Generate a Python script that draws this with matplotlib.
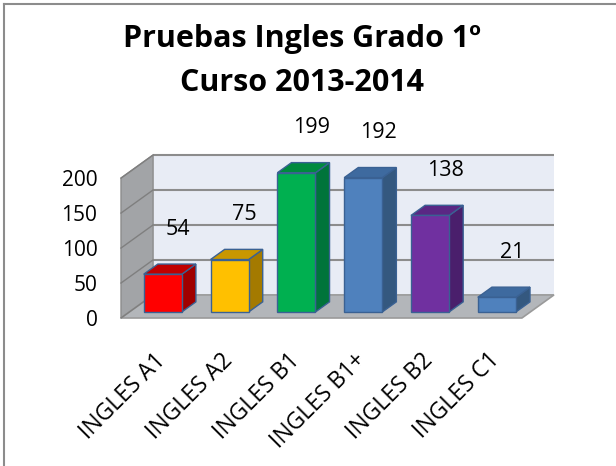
import matplotlib.pyplot as plt
from matplotlib.patches import Polygon
from matplotlib.lines import Line2D
from matplotlib.transforms import ScaledTranslation

categories = ["INGLES A1", "INGLES A2", "INGLES B1", "INGLES B1+", "INGLES B2", "INGLES C1"]
values = [54, 75, 199, 192, 138, 21]
front_colors = ["#FF0000", "#FFC000", "#00B050", "#4F81BD", "#7030A0", "#4F81BD"]
top_colors = ["#C00000", "#C99700", "#008A3E", "#3E6A9F", "#5A2784", "#3E6A9F"]
side_colors = ["#A00000", "#A47A00", "#00743A", "#34587F", "#4A1F6C", "#34587F"]
yticks = [0, 50, 100, 150, 200]
title = "Pruebas Ingles Grado 1º\nCurso 2013-2014"

plt.rcParams['font.family'] = ['Open Sans', 'DejaVu Sans']

W, H = 616, 466
fig = plt.figure(figsize=(W / 100, H / 100), dpi=100)

# pseudo 3d: depth offset in data units
DX = 0.48      # categories
DY = 33.0      # value units
bw = 0.57      # bar width
d0, d1 = 0.26, 0.70   # bar depth range (fraction of floor depth)
ymax = max(yticks)
n = len(categories)

ax = fig.add_axes([121 / W, 1 - 318 / H, 433 / W, 163 / H])
ax.set_xlim(-0.5, n - 0.5 + DX)
ax.set_ylim(0, ymax + DY)


def proj(x, v, d):
    return (x + d * DX, v + d * DY)


xl, xr = -0.5, n - 0.5
wall_kw = dict(closed=True, clip_on=False)
# back wall
ax.add_patch(Polygon([proj(xl, 0, 1), proj(xr, 0, 1), proj(xr, ymax, 1), proj(xl, ymax, 1)],
                     facecolor="#E8ECF5", edgecolor="none", zorder=1, **wall_kw))
# side wall
ax.add_patch(Polygon([proj(xl, 0, 0), proj(xl, 0, 1), proj(xl, ymax, 1), proj(xl, ymax, 0)],
                     facecolor="#A2A4A7", edgecolor="#8C8C8C", lw=1.0, zorder=1, **wall_kw))
# floor
ax.add_patch(Polygon([proj(xl, 0, 0), proj(xr, 0, 0), proj(xr, 0, 1), proj(xl, 0, 1)],
                     facecolor="#B3B6BA", edgecolor="#9A9A9A", lw=1.2, zorder=2, **wall_kw))

# gridlines on back and side walls
for v in yticks:
    bx0, by0 = proj(xl, v, 1)
    bx1, by1 = proj(xr, v, 1)
    sx0, sy0 = proj(xl, v, 0)
    if v > 0:
        ax.plot([bx0, bx1], [by0, by1], color="#8C8C8C", lw=1.5, zorder=2, clip_on=False,
                solid_capstyle="butt")
    ax.plot([sx0, bx0], [sy0, by0], color="#7F7F7F", lw=1.0, zorder=2, clip_on=False)

# bars
edge = "#3A6193"
for i, v in enumerate(values):
    x0, x1 = i - bw / 2, i + bw / 2
    side = [proj(x1, 0, d0), proj(x1, 0, d1), proj(x1, v, d1), proj(x1, v, d0)]
    top = [proj(x0, v, d0), proj(x1, v, d0), proj(x1, v, d1), proj(x0, v, d1)]
    ax.add_patch(Polygon(side, closed=True, facecolor=side_colors[i], edgecolor=edge, lw=1.0, zorder=3))
    ax.add_patch(Polygon(top, closed=True, facecolor=top_colors[i], edgecolor=edge, lw=1.0, zorder=3))
    ax.bar(i + d0 * DX, v, width=bw, bottom=d0 * DY, color=front_colors[i],
           edgecolor=edge, linewidth=1.0, zorder=4)
    ax.annotate(str(v), xy=proj(i, v, d0), xytext=(15, 45), textcoords="offset pixels",
                ha="center", va="center", fontsize=15.5, fontweight="medium",
                color="black", annotation_clip=False)

ax.set_yticks(yticks)
ax.set_yticklabels([str(t) for t in yticks], fontsize=15)
ax.set_xticks(range(n))
ax.set_xticklabels(categories, fontsize=16.5, rotation=45, ha="right", va="center",
                   rotation_mode="anchor")
ax.tick_params(axis="y", length=0, pad=17)
ax.tick_params(axis="x", length=0, pad=28)
shift = ScaledTranslation(0.08, 0, fig.dpi_scale_trans)
for lab in ax.get_xticklabels():
    lab.set_transform(lab.get_transform() + shift)
for s in ax.spines.values():
    s.set_visible(False)
ax.patch.set_visible(False)

fig.text(302 / W, 1 - 61 / H, title, ha="center", va="center", fontsize=22,
         fontweight="bold", linespacing=1.6)

# chart border (top and left visible)
fig.add_artist(Line2D([4 / W, 1], [1 - 3.5 / H, 1 - 3.5 / H], transform=fig.transFigure,
                      color="#8C8C8C", lw=1.5))
fig.add_artist(Line2D([4 / W, 4 / W], [0, 1 - 3.5 / H], transform=fig.transFigure,
                      color="#8C8C8C", lw=1.5))

fig.savefig("out.png", dpi=100, facecolor="white")
